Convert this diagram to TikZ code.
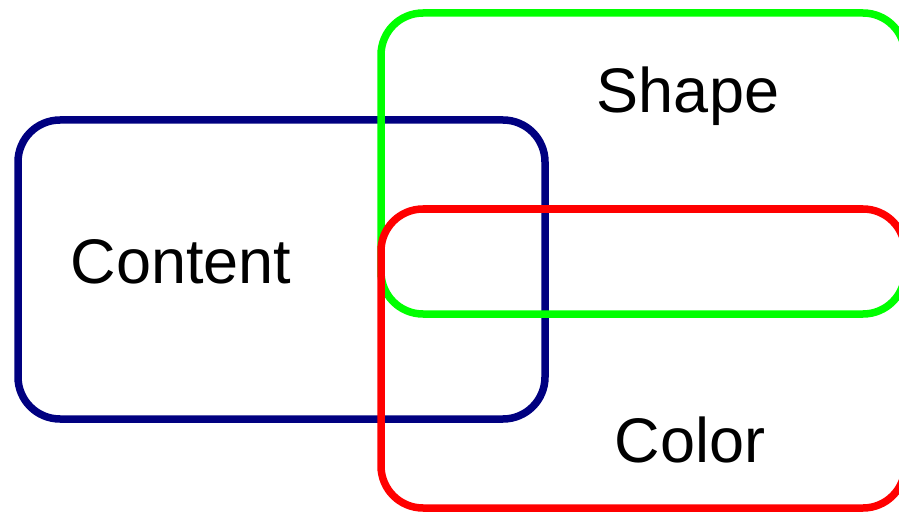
\documentclass[tikz,border=0pt]{standalone}
\usepackage{fontspec}
\setmainfont{Liberation Sans}
\definecolor{contentblue}{RGB}{0,0,128}
\definecolor{shapegreen}{RGB}{0,255,0}
\definecolor{colorred}{RGB}{255,0,0}
\begin{document}
\begin{tikzpicture}[x=1pt, y=-1pt,
  box/.style={line width=7.5pt, rounded corners=42pt},
  lbl/.style={anchor=base, inner sep=0pt, font=\fontsize{63}{70}\selectfont}]
\useasboundingbox (0,0) rectangle (899,513);
\clip (0,0) rectangle (899,513);
% the three sets
\draw[box, draw=contentblue] (18,120) rectangle (545,419);
\draw[box, draw=shapegreen] (381,13) rectangle (905,314);
\draw[box, draw=colorred] (381,209) rectangle (905,508);
% labels
\node[lbl] (content) at (181,283) {Content};
\node[lbl] (shape) at (688,113) {Shape};
\node[lbl] (color) at (690,462) {Color};
\end{tikzpicture}
\end{document}
